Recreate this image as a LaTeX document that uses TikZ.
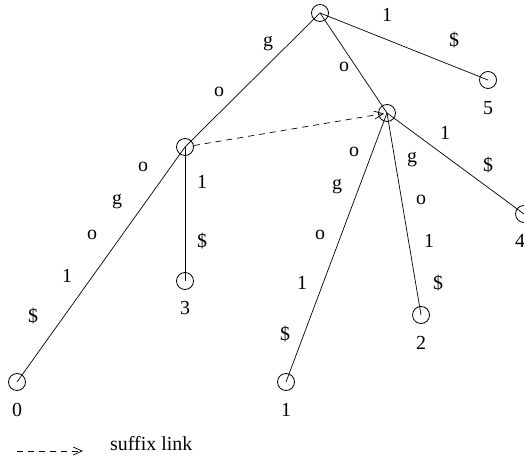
\documentclass[tikz,border=0pt]{standalone}
\usepackage{fontspec}
\setmainfont{Liberation Serif}
\usetikzlibrary{arrows.meta}
\begin{document}
\begin{tikzpicture}[x=1bp,y=-1bp,
  vert/.style={circle,draw,minimum size=17bp,inner sep=0pt,line width=0.8bp},
  edge/.style={line width=0.7bp},
  lab/.style={font=\fontsize{20}{23}\selectfont,inner sep=0pt},
  link/.style={line width=0.7bp,dash pattern=on 6bp off 5bp,-{Straight Barb[length=9bp,width=8bp]}}]
\useasboundingbox (0,0) rectangle (524,457);
\clip (0,0) rectangle (524,457);
% vertices
\node[vert] (root) at (320,13) {};
\node[vert] (a) at (185,147) {};
\node[vert] (b) at (387,113) {};
\node[vert] (l5) at (488,80) {};
\node[vert] (l4) at (524,214) {};
\node[vert] (l3) at (185,281) {};
\node[vert] (l0) at (17,382) {};
\node[vert] (l1) at (286,382) {};
\node[vert] (l2) at (421,315) {};
% edges
\draw[edge] (root.center) -- (a.center);
\draw[edge] (root.center) -- (b.center);
\draw[edge] (root.center) -- (l5.center);
\draw[edge] (b.center) -- (l4.center);
\draw[edge] (b.center) -- (l2.center);
\draw[edge] (b.center) -- (l1.center);
\draw[edge] (a.center) -- (l3.center);
\draw[edge] (a.center) -- (l0.center);
% suffix link
\draw[link,shorten >=3bp] (a) -- (b.center);
% edge labels
\node[lab] (e1) at (268,44) {g};
\node[lab] (e2) at (219,92) {o};
\node[lab] (e3) at (344,67) {o};
\node[lab] (e4) at (387,15) {1};
\node[lab] (e5) at (454,40) {\$};
\node[lab] (e6) at (445,133) {1};
\node[lab] (e7) at (488,165) {\$};
\node[lab] (e8) at (412,160) {g};
\node[lab] (e9) at (421,200) {o};
\node[lab] (e10) at (429,241) {1};
\node[lab] (e11) at (438,283) {\$};
\node[lab] (e12) at (354,152) {o};
\node[lab] (e13) at (337,187) {g};
\node[lab] (e14) at (320,235) {o};
\node[lab] (e15) at (302,283) {1};
\node[lab] (e16) at (285,334) {\$};
\node[lab] (e17) at (202,182) {1};
\node[lab] (e18) at (202,241) {\$};
\node[lab] (e19) at (143,167) {o};
\node[lab] (e20) at (117,202) {g};
\node[lab] (e21) at (92,235) {o};
\node[lab] (e22) at (67,276) {1};
\node[lab] (e23) at (33,316) {\$};
% leaf numbers
\node[lab] (n5) at (488,108) {5};
\node[lab] (n4) at (520,241) {4};
\node[lab] (n2) at (421,343) {2};
\node[lab] (n1) at (286,410) {1};
\node[lab] (n3) at (185,308) {3};
\node[lab] (n0) at (17,410) {0};
% legend
\coordinate (ls) at (17,451);
\coordinate (le) at (83,451);
\draw[link] (ls) -- (le);
\node[lab,anchor=base west] (lt) at (110,450) {suffix link};
\end{tikzpicture}
\end{document}
